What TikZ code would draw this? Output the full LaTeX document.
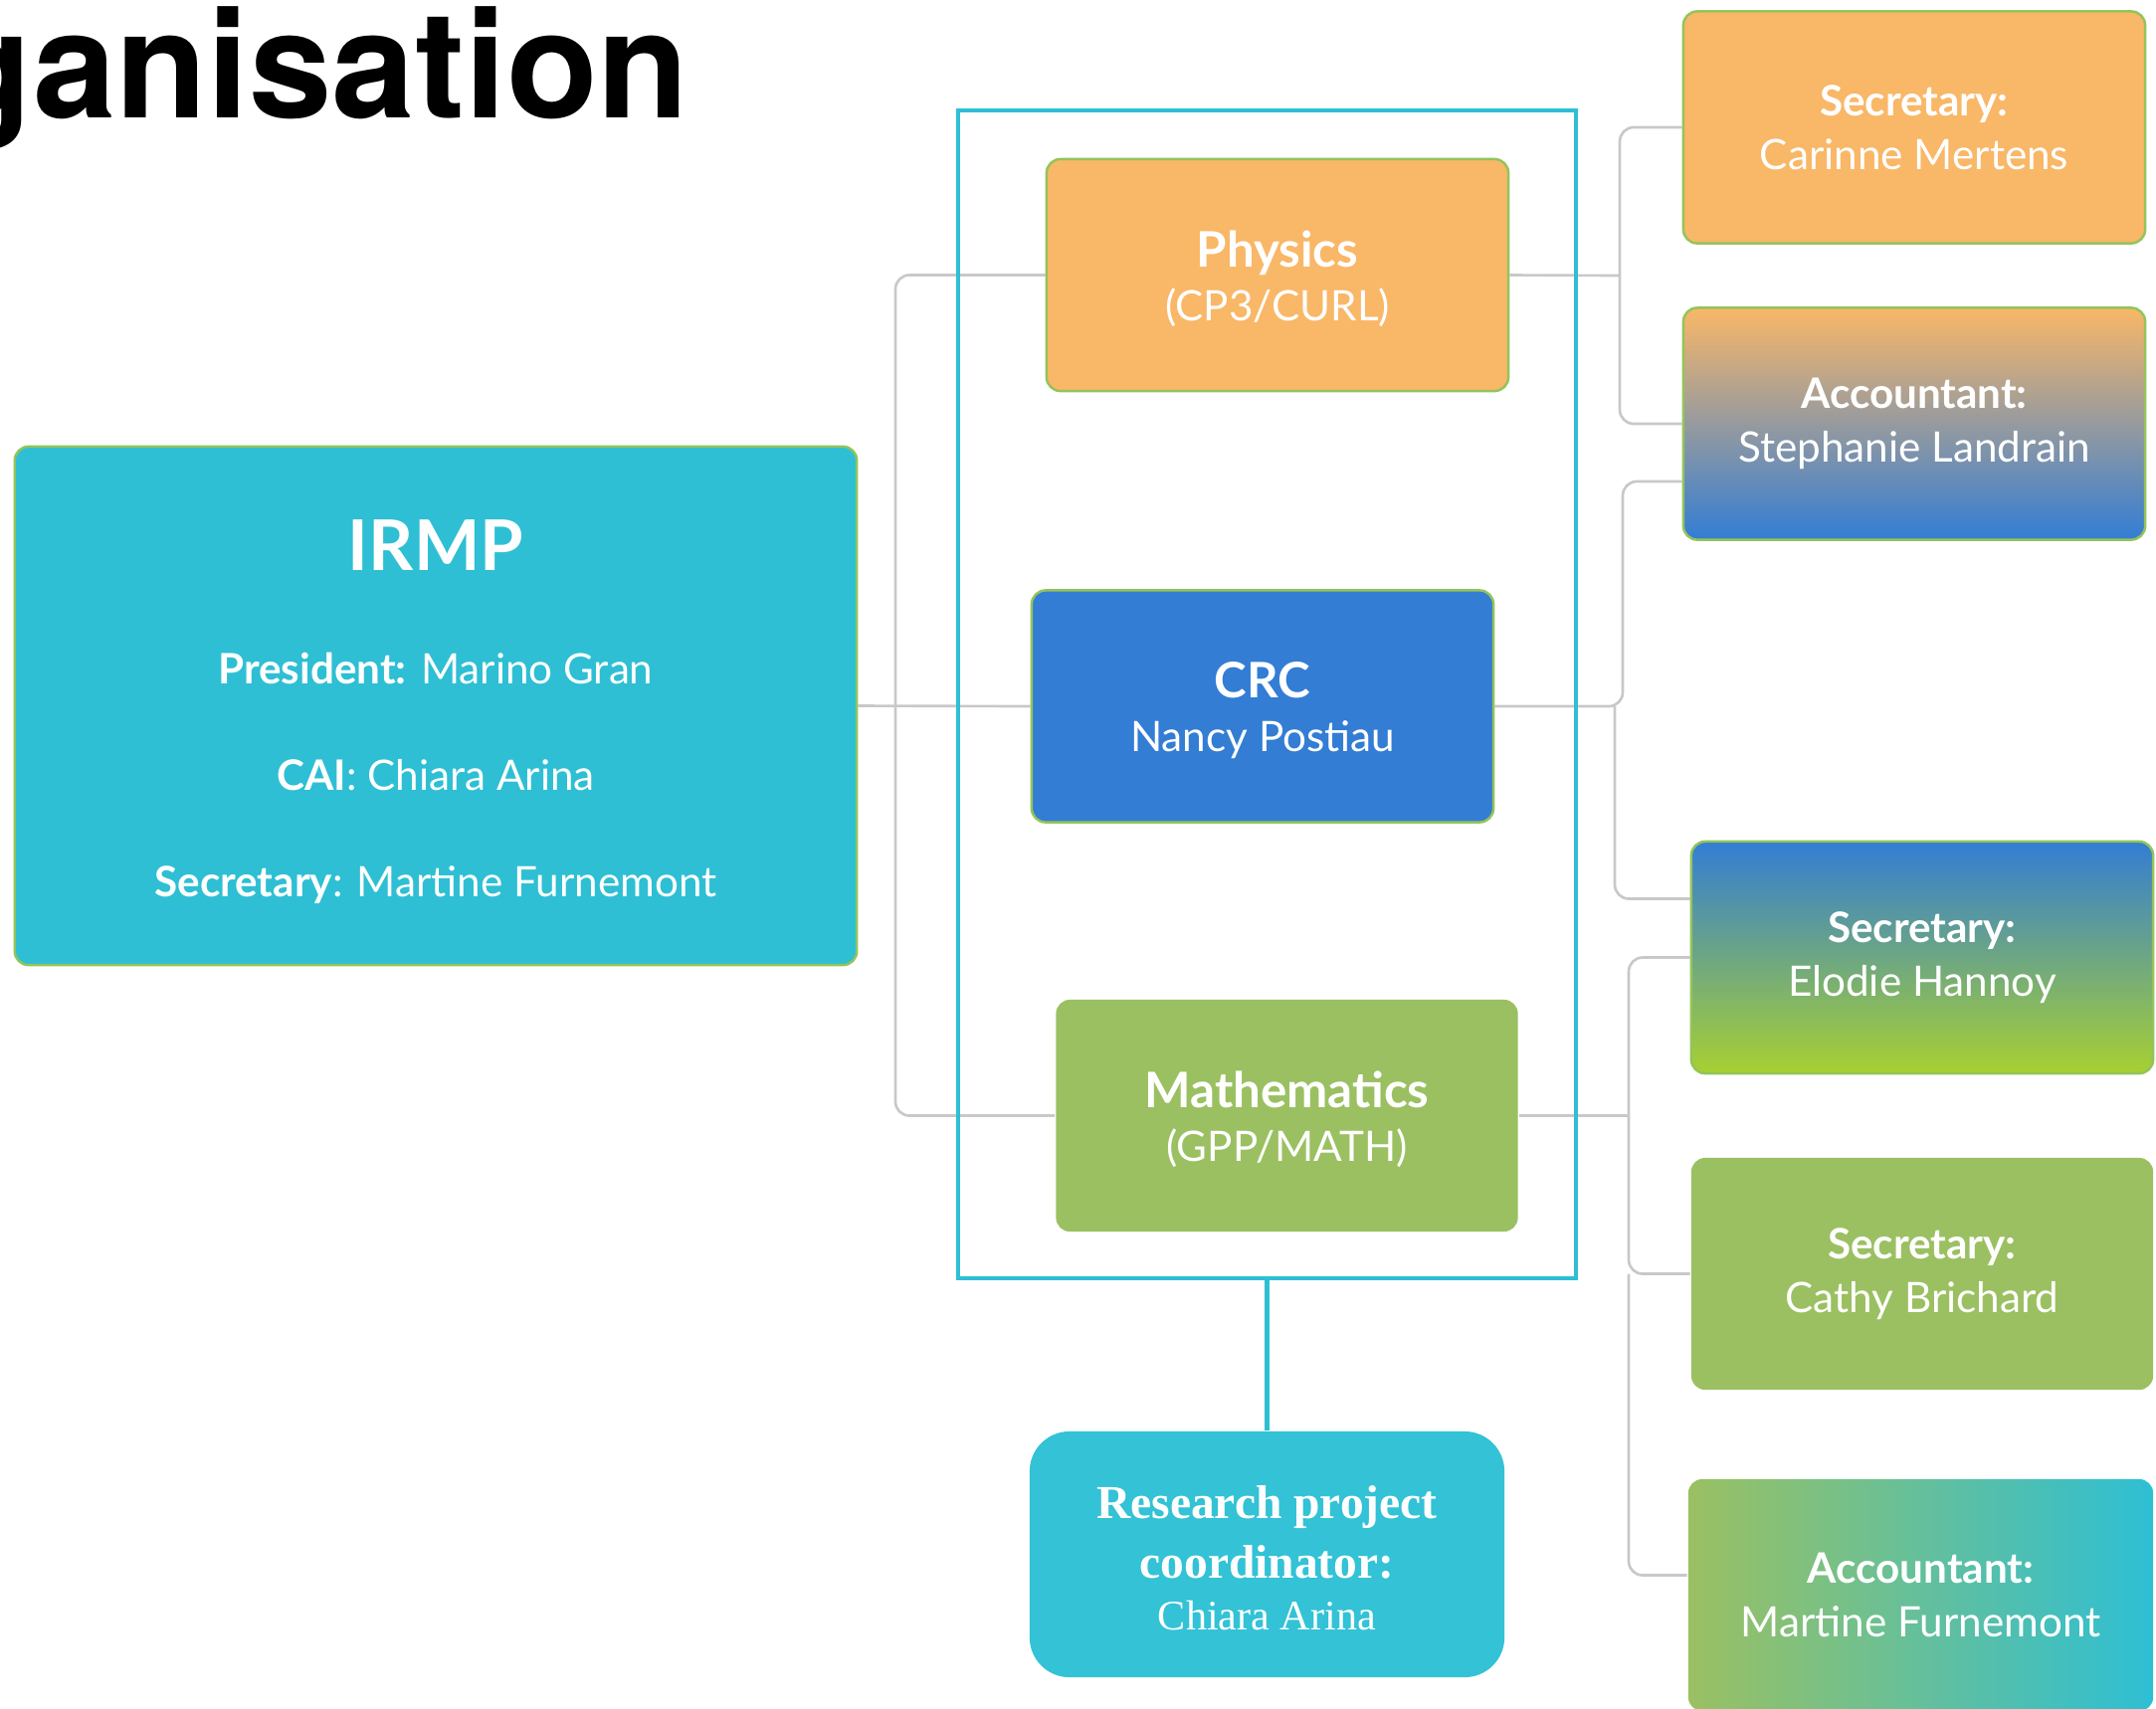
\documentclass[tikz,border=0pt]{standalone}
\usepackage{fontspec}
\setmainfont{Lato}
\newfontfamily\headfont{TeX Gyre Heros}
\newfontfamily\coordfont{Liberation Serif}
\usetikzlibrary{backgrounds}

\definecolor{irmpcyan}{HTML}{2EBFD4}
\definecolor{rescyan}{HTML}{33C2D6}
\definecolor{physorange}{HTML}{F9B768}
\definecolor{crcblue}{HTML}{337DD4}
\definecolor{mathgreen}{HTML}{9BC062}
\definecolor{limegreen}{HTML}{A8D032}
\definecolor{edgegreen}{HTML}{93C45A}
\definecolor{linkgrey}{HTML}{C8C8C8}

\tikzset{
  orgbox/.style={draw=edgegreen, line width=0.7pt, rounded corners=0.14cm, text=white,
    align=center, inner sep=0pt, minimum width=4.64cm, minimum height=2.33cm,
    font=\fontsize{12}{15.4}\selectfont},
  link/.style={draw=linkgrey, line width=0.75pt, rounded corners=0.14cm},
  unitframe/.style={draw=irmpcyan, line width=1.2pt, inner sep=0pt,
    minimum width=6.21cm, minimum height=11.74cm},
}

\begin{document}
\begin{tikzpicture}[x=0.01cm, y=-0.01cm]
  \useasboundingbox (0,0) rectangle (2167,1717);
  \clip (0,0) rectangle (2167,1717);

  \node[anchor=base east, font=\headfont\bfseries\fontsize{42.7}{50}\selectfont] (title) at (705,118) {Organisation};

  \node[unitframe] (unit) at (1273.5,698) {};
  \node[orgbox, fill=physorange] (phys) at (1284,276.5) {\rule{0pt}{12.5pt}{\fontsize{14}{15.4}\selectfont\bfseries Physics}\\(CP3/CURL)};
  \node[orgbox, fill=crcblue] (crc) at (1269,710) {\rule{0pt}{12.5pt}{\fontsize{14}{15.4}\selectfont\bfseries CRC}\\Nancy Postiau};
  \node[orgbox, fill=mathgreen, draw=none] (math) at (1293.5,1121.5) {\rule{0pt}{12.5pt}{\fontsize{14}{15.4}\selectfont\bfseries Mathematics}\\(GPP/MATH)};
  \node[orgbox, fill=rescyan, draw=none, rounded corners=0.4cm, minimum width=4.77cm, minimum height=2.47cm,
    font=\coordfont\fontsize{12}{17}\selectfont] (coord) at (1273.5,1562.5)
    {\rule{0pt}{11.5pt}{\fontsize{13.5}{17}\selectfont\bfseries Research project}\\{\fontsize{13.5}{17}\selectfont\bfseries coordinator:}\\[-2pt]Chiara Arina};
  \draw[irmpcyan, line width=1.2pt] (unit.south) -- (coord.north);

  \node[orgbox, fill=irmpcyan, minimum width=8.46cm, minimum height=5.21cm,
    font=\fontsize{12}{30.4}\selectfont] (irmp) at (438,709.5)
    {\rule{0pt}{18pt}{\fontsize{20}{30.4}\selectfont\bfseries IRMP}\\[2pt]\textbf{President:} Marino Gran\\\textbf{CAI}: Chiara Arina\\\textbf{Secretary}: Martine Furnemont};

  \node[orgbox, fill=physorange] (carinne) at (1924,128) {\textbf{Secretary:}\\Carinne Mertens};
  \node[orgbox, top color=physorange, bottom color=crcblue] (steph) at (1924,426) {\textbf{Accountant:}\\Stephanie Landrain};
  \node[orgbox, top color=crcblue, bottom color=limegreen] (elodie) at (1932,962.5) {\textbf{Secretary:}\\Elodie Hannoy};
  \node[orgbox, fill=mathgreen, draw=none] (cathy) at (1932,1280.5) {\textbf{Secretary:}\\Cathy Brichard};
  \node[orgbox, left color=mathgreen, right color=irmpcyan, draw=none, minimum width=4.67cm] (martine) at (1930.5,1603.5) {\textbf{Accountant:}\\Martine Furnemont};

  \coordinate (ltrunk) at (900,700);
  \coordinate (ptrunk) at (1628,277);
  \coordinate (crcup) at (1631,484);
  \coordinate (crcdown) at (1623,710);
  \coordinate (mtrunk) at (1637,1121.5);

  \begin{scope}[on background layer]
    \draw[link] (phys.west) -| (ltrunk) |- (math.west);
    \draw[link] (irmp.east) -- (crc.west);
    \draw[link] (phys.east) -- (ptrunk);
    \draw[link] (carinne.west) -| (ptrunk) |- (steph.west);
    \draw[link] (crc.east) -| (crcup) -- (crcup -| steph.west);
    \draw[link] (crcdown) |- ([yshift=0.59cm]elodie.west);
    \draw[link] (math.east) -- (mtrunk);
    \draw[link] (elodie.west) -| (mtrunk) |- (cathy.west);
    \draw[link] (mtrunk |- cathy.west) |- ([yshift=0.2cm]martine.west);
  \end{scope}
\end{tikzpicture}
\end{document}
